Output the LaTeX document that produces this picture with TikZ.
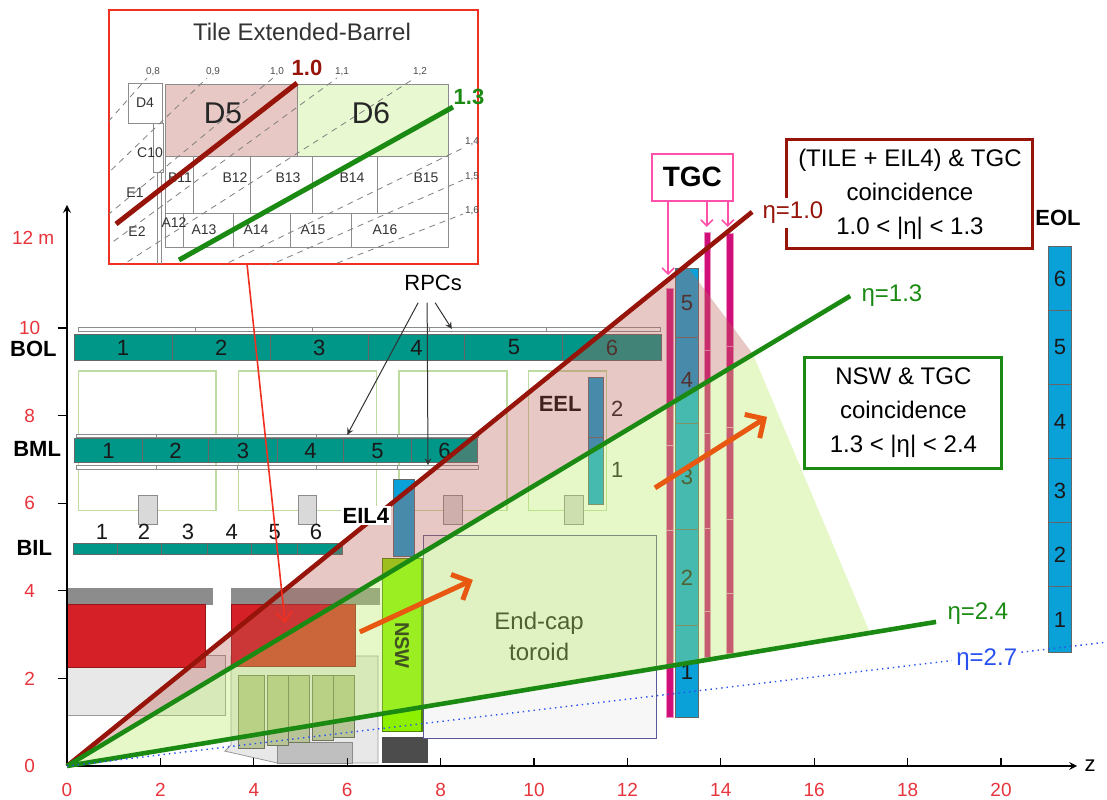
\documentclass[tikz,border=0pt]{standalone}
\usepackage{fontspec}
\setmainfont{Liberation Sans}
\usetikzlibrary{arrows}
\usetikzlibrary{arrows.meta}
\usetikzlibrary{calc}

\definecolor{axisred}{RGB}{232,52,60}
\definecolor{etared}{RGB}{150,20,10}
\definecolor{etagreen}{RGB}{26,138,18}
\definecolor{etablue}{RGB}{40,80,240}
\definecolor{chteal}{RGB}{0,150,136}
\definecolor{chblue}{RGB}{10,160,216}
\definecolor{tgcpink}{RGB}{255,80,170}
\definecolor{tgcbar}{RGB}{208,16,120}
\definecolor{arrorange}{RGB}{232,88,16}
\definecolor{insetred}{RGB}{240,48,32}
\definecolor{nswgreen}{RGB}{140,240,0}
\definecolor{calored}{RGB}{212,32,38}
\definecolor{pinkshade}{RGB}{189,98,86}
\definecolor{greenshade}{RGB}{184,235,98}
\definecolor{framegreen}{RGB}{190,220,160}
\definecolor{calkhaki}{RGB}{184,196,152}
\definecolor{toroidline}{RGB}{90,90,150}
\definecolor{pinkcell}{RGB}{232,200,196}
\definecolor{greencell}{RGB}{232,248,208}

\begin{document}
\begin{tikzpicture}[x=23.35pt,y=21.9pt,
    chamber/.style={draw=black!60,line width=0.5pt},
    rpcstrip/.style={draw=black!45,fill=white,line width=0.4pt},
    greenframe/.style={draw=framegreen,line width=0.6pt},
    grayblock/.style={draw=black!45,fill=black!15,line width=0.4pt},
    tgcseg/.style={draw=tgcbar!45!white,fill=tgcbar,line width=0.4pt},
    num/.style={font=\fontsize{11}{13}\selectfont,text=black!90},
    chlabel/.style={font=\fontsize{11}{13}\selectfont\bfseries,text=black},
    ticklabel/.style={font=\fontsize{9.5}{11}\selectfont,text=axisred},
    etalabel/.style={font=\fontsize{12}{14}\selectfont,anchor=west,inner sep=2pt},
    etaline/.style={line width=2.3pt},
    coinc/.style={line width=1.5pt,fill=white,align=center,font=\fontsize{12}{17}\selectfont,inner sep=2pt},
    bigarrow/.style={arrorange,line width=2.5pt,-{Straight Barb[length=7pt,width=14pt]}},
    rpcarrow/.style={black!80,line width=0.5pt,-stealth},
    tgcarrow/.style={tgcpink,line width=0.8pt,-{Straight Barb[length=3pt,width=6pt]}},
    cell/.style={draw=black!45,line width=0.5pt},
    cellnum/.style={font=\fontsize{7}{8}\selectfont,text=black!80,inner sep=0.5pt},
    bigcell/.style={font=\fontsize{15}{17}\selectfont,text=black!85},
    tiny/.style={font=\fontsize{5}{6}\selectfont,text=black!70,inner sep=0.5pt},
  ]
\path[use as bounding box,fill=white] (-1.435,-0.776) rectangle (22.27,17.489);

\coordinate (O) at (0,0);
\coordinate (e10) at (14.67,12.65);
\coordinate (e13) at (16.77,10.73);
\coordinate (e24) at (18.61,3.29);
\coordinate (e27) at (22.27,2.83);

\foreach \a/\b in {0.24/3.19,3.68/6.62,7.11/9.42,9.89/11.56}
  \draw[greenframe] (\a,5.84) rectangle (\b,9.02);
\foreach \a/\b in {1.52/1.93,4.95/5.35,8.05/8.46,10.66/11.05}
  \draw[grayblock] (\a,5.52) rectangle (\b,6.18);

\foreach \a/\b in {0.24/2.74,2.74/5.25,5.25/7.75,7.75/10.26,10.26/12.70}
  \draw[rpcstrip] (\a,9.93) rectangle (\b,10.02);
\foreach \a/\b/\n in {0.15/2.25/1,2.25/4.35/2,4.35/6.45/3,6.45/8.52/4,8.52/10.62/5,10.62/12.72/6}
  \draw[chamber,fill=chteal] (\a,9.25) rectangle node[num] (bol\n) {\n} (\b,9.86);

\foreach \a/\b in {0.21/1.91,1.91/3.64,3.64/5.35,5.35/7.07,7.07/8.80} {
  \draw[rpcstrip] (\a,7.51) rectangle (\b,7.58);
  \draw[rpcstrip] (\a,6.78) rectangle (\b,6.87);
}
\foreach \a/\b/\n in {0.17/1.61/1,1.61/3.04/2,3.04/4.50/3,4.50/5.93/4,5.93/7.37/5,7.37/8.80/6}
  \draw[chamber,fill=chteal] (\a,6.92) rectangle node[num] (bml\n) {\n} (\b,7.47);

\foreach \a/\b in {0.13/1.09,1.09/2.03,2.03/3.00,3.00/3.96,3.96/4.93,4.93/5.89}
  \draw[chamber,fill=chteal] (\a,4.82) rectangle (\b,5.09);
\foreach \x/\n in {0.75/1,1.65/2,2.59/3,3.53/4,4.45/5,5.33/6}
  \node[num] (bil\n) at (\x,5.34) {\n};

\node[chlabel] (bol) at (-0.72,9.52) {BOL};
\node[chlabel] (bml) at (-0.64,7.24) {BML};
\node[chlabel] (bil) at (-0.70,4.98) {BIL};

% calorimeters and shielding
\draw[black!40,fill=black!9,line width=0.4pt] (0,1.16) rectangle (3.40,2.53);
\draw[black!40,fill=black!9,line width=0.4pt] (3.51,2.51) -- (6.66,2.51) -- (6.66,0.07) -- (4.50,0.07) -- (3.38,0.34) -- (3.51,0.48) -- cycle;
\draw[black!45,fill=black!25,line width=0.4pt] (4.50,0.07) rectangle (6.12,0.55);
\foreach \a/\b/\c in {3.66/4.22/0.41,4.30/4.73/0.46,4.75/5.18/0.53,5.25/5.70/0.59,5.70/6.15/0.66}
  \draw[calkhaki!60!black,fill=calkhaki,line width=0.4pt] (\a,\c) rectangle (\b,2.08);
\fill[black!45] (0,3.68) rectangle (3.13,4.06);
\fill[black!45] (3.51,3.68) rectangle (6.70,4.06);
\draw[calored!70!black,fill=calored,line width=0.4pt] (0,2.26) rectangle (2.96,3.68);
\draw[calored!70!black,fill=calored,line width=0.4pt] (3.51,2.28) rectangle (6.17,3.68);
\fill[black!70] (6.75,0.07) rectangle (7.73,0.66);

\draw[toroidline,fill=black!3,line width=0.5pt] (7.64,0.62) rectangle (12.63,5.27);
\node[font=\fontsize{12}{15.5}\selectfont,align=center,text=black!90] (toroid) at (10.11,2.96) {End-cap\\toroid};

\draw[nswgreen!55!black,fill=nswgreen,line width=0.6pt] (6.75,0.78) rectangle node[chlabel,rotate=-90,font=\fontsize{10}{12}\selectfont\bfseries] (nsw) {NSW} (7.60,4.73);

\draw[chamber,fill=chblue] (7.00,4.79) rectangle (7.45,6.53);
\draw[chamber,fill=chblue] (11.16,7.51) rectangle (11.48,8.88);
\draw[chamber,fill=chblue] (11.16,5.96) rectangle (11.48,7.51);
\node[chlabel] (eel) at (10.56,8.26) {EEL};
\node[num] (eel2) at (11.78,8.15) {2};
\node[num] (eel1) at (11.78,6.76) {1};

% end-cap middle station
\foreach \a/\b in {1.10/5.39,5.39/7.33,7.33/10.91}
  \draw[tgcseg] (12.83,\a) rectangle (12.98,\b);
\foreach \a/\b in {2.49/3.52,3.52/5.43,5.43/7.60,7.60/9.50,9.50/12.19}
  \draw[tgcseg] (13.64,\a) rectangle (13.77,\b);
\foreach \a/\b in {2.58/3.95,3.95/5.62,5.62/7.72,7.72/9.59,9.59/12.17}
  \draw[tgcseg] (14.13,\a) rectangle (14.26,\b);
\foreach \a/\b/\n in {1.10/3.20/1,3.20/5.39/2,5.39/7.83/3,7.83/9.79/4,9.79/11.37/5}
  \draw[chamber,fill=chblue] (13.02,\a) rectangle node[num] (eml\n) {\n} (13.53,\b);

\foreach \a/\b/\n in {2.60/4.09/1,4.09/5.55/2,5.55/7.01/3,7.01/8.72/4,8.72/10.39/5,10.39/11.85/6}
  \draw[chamber,fill=chblue] (21.01,\a) rectangle node[num] (eol\n) {\n} (21.52,\b);
\node[chlabel] (eol) at (21.22,12.51) {EOL};

\fill[pinkshade,fill opacity=0.35] (O) -- ($(O)!0.904!(e10)$) -- ($(O)!0.876!(e13)$) -- cycle;
\fill[greenshade,fill opacity=0.35] (O) -- ($(O)!0.876!(e13)$) -- ($(O)!0.924!(e24)$) -- cycle;

% axes
\draw[line width=0.75pt,-stealth] (O) -- (0,12.81);
\draw[line width=0.75pt,-stealth] (O) -- (21.63,0) node[right,font=\fontsize{11}{13}\selectfont] (zlab) {z};
\foreach \y in {2,4,...,10}
  \draw[line width=0.6pt] (-0.2,\y) -- (0,\y);
\foreach \y in {0,2,...,10}
  \node[ticklabel] (ly\y) at (-0.8,\y) {\y};
\node[ticklabel,anchor=east] (ly12) at (-0.12,12.05) {12 m};
\foreach \x in {2,4,...,20}
  \draw[line width=0.6pt] (\x,0) -- (\x,0.18);
\foreach \x in {0,2,...,20}
  \node[ticklabel] (lx\x) at (\x,-0.55) {\x};

\draw[etaline,etared] (O) -- (e10);
\draw[etaline,etagreen] (O) -- (e13);
\draw[etaline,etagreen] (O) -- (e24);
\draw[etablue,dotted,line width=0.7pt] (O) -- (e27);

\node[chlabel,fill=white,inner sep=1pt] (eil4) at (6.40,5.71) {EIL4};

\coordinate (ar1s) at (6.27,3.06);
\coordinate (ar1e) at (8.69,4.25);
\coordinate (ar2s) at (12.59,6.35);
\coordinate (ar2e) at (14.99,7.97);
\draw[bigarrow] (ar1s) -- (ar1e);
\draw[bigarrow] (ar2s) -- (ar2e);

\node[coinc,draw=etared,minimum width=123pt,minimum height=54.5pt] (tilebox) at (18.05,13.05)
  {(TILE + EIL4) \& TGC\\coincidence\\1.0 < |η| < 1.3};
\node[coinc,draw=etagreen,minimum width=98.5pt,minimum height=55.5pt] (nswbox) at (17.91,8.07)
  {NSW \& TGC\\coincidence\\1.3 < |η| < 2.4};

\node[etalabel,text=etared,fill=white] (l10) at (14.80,12.63) {η=1.0};
\node[etalabel,text=etagreen] (l13) at (16.92,10.75) {η=1.3};
\node[etalabel,text=etagreen] (l24) at (18.76,3.49) {η=2.4};
\node[etalabel,text=etablue,fill=white] (l27) at (18.95,2.42) {η=2.7};

\node[draw=tgcpink,line width=1.3pt,fill=white,font=\fontsize{14}{16}\selectfont\bfseries,
  minimum width=40.5pt,minimum height=23.5pt] (tgc) at (13.39,13.44) {TGC};
\coordinate (tgc1) at (12.87,11.21);
\coordinate (tgc2) at (13.70,12.31);
\coordinate (tgc3) at (14.15,12.31);
\draw[tgcarrow] (tgc1 |- tgc.south) -- (tgc1);
\draw[tgcarrow] (tgc2 |- tgc.south) -- (tgc2);
\draw[tgcarrow] (tgc3 |- tgc.south) -- (tgc3);

\node[font=\fontsize{11}{13}\selectfont] (rpc) at (7.84,11.03) {RPCs};
\coordinate (rpcbml) at (6.00,7.56);
\coordinate (rpcbmllow) at (7.73,6.87);
\coordinate (rpcbol) at (8.24,9.98);
\draw[rpcarrow] ([xshift=-7.5pt,yshift=-2.5pt]rpc.south) -- (rpcbml);
\draw[rpcarrow] ([xshift=-3pt,yshift=-2.5pt]rpc.south) -- (rpcbmllow);
\draw[rpcarrow] ([xshift=1pt,yshift=-2.5pt]rpc.south) -- (rpcbol);

% tile extended barrel inset
\begin{scope}[x=0.5pt,y=-0.5pt,shift={(-33.5pt,383pt)}]
  \draw[insetred,fill=white,line width=1pt] (109,10) rectangle (478,264);
  \coordinate (insetfoot) at (247,264);
  \node[font=\fontsize{12}{14}\selectfont,text=black!80] (tebtitle) at (302,32) {Tile Extended-Barrel};
  \draw[cell,fill=pinkcell] (165,84) rectangle (297,156);
  \draw[cell,fill=greencell] (297,84) rectangle (448,156);
  \draw[cell] (165,156) rectangle (448,213);
  \foreach \x in {193,250,312,377}
    \draw[cell] (\x,156) -- (\x,213);
  \draw[cell] (165,213) rectangle (448,247);
  \foreach \x in {183,233,290,351}
    \draw[cell] (\x,213) -- (\x,247);
  \draw[cell,fill=white] (128,83) rectangle (162,123);
  \draw[cell,fill=white] (153,123) rectangle (163,172);
  \draw[cell] (157,172) -- (157,264) (161,172) -- (161,264);
  \begin{scope}
    \clip (109,10) rectangle (478,264);
    \coordinate (vp) at (-206,475);
    \foreach \x/\y in {147/78,207/78,273/78,337/78,415/78,463/148,463/180,463/214}
      \draw[black!50,line width=0.4pt,dash pattern=on 3pt off 2.5pt] (vp) -- (\x,\y);
  \end{scope}
  \foreach \x/\y/\t in {153/72/{0,8},213/72/{0,9},277/72/{1,0},342/72/{1,1},420/72/{1,2},472/142/{1,4},472/177/{1,5},472/211/{1,6}}
    \node[tiny] at (\x,\y) {\t};
  \node[bigcell] (d5) at (223,113) {D5};
  \node[bigcell] (d6) at (371,113) {D6};
  \node[cellnum] (d4) at (145,103) {D4};
  \node[cellnum] (c10) at (150,153) {C10};
  \node[cellnum] (e1) at (135,193) {E1};
  \node[cellnum] (e2) at (137,232) {E2};
  \foreach \x/\n in {180/11,235/12,288/13,352/14,426/15}
    \node[cellnum] (b\n) at (\x,178) {B\n};
  \foreach \x/\y/\n in {174/223/12,204/230/13,256/230/14,313/230/15,385/230/16}
    \node[cellnum] (a\n) at (\x,\y) {A\n};
  \draw[etared,line width=2.5pt] (116,224) -- (297,83);
  \draw[etagreen,line width=2.5pt] (179,260) -- (453,107);
  \node[font=\fontsize{11}{13}\selectfont\bfseries,text=etared] (t10) at (307,68) {1.0};
  \node[font=\fontsize{11}{13}\selectfont\bfseries,text=etagreen] (t13) at (469,97) {1.3};
\end{scope}
\coordinate (calotip) at (4.67,3.26);
\draw[insetred,line width=0.8pt,-{Straight Barb[length=5pt,width=8pt]}] (insetfoot) -- (calotip);

\end{tikzpicture}
\end{document}
